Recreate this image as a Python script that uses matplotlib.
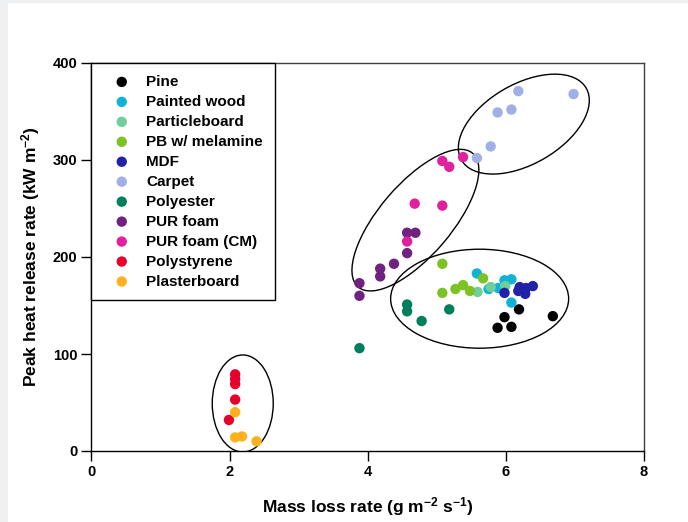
import numpy as np
import matplotlib
matplotlib.use("Agg")
import matplotlib.pyplot as plt
from matplotlib.patches import Ellipse, Rectangle
from matplotlib.transforms import ScaledTranslation

plt.rcParams["font.family"] = ["Liberation Sans", "DejaVu Sans"]
plt.rcParams["font.weight"] = "bold"
plt.rcParams["mathtext.fontset"] = "custom"
plt.rcParams["mathtext.rm"] = "Liberation Sans:bold"
plt.rcParams["mathtext.default"] = "rm"

# ── data (mass loss rate g/m2/s, peak HRR kW/m2) ─────────────────────────────
pine_x = [6.19, 5.98, 5.88, 6.08, 6.68]
pine_y = [146, 138, 127, 128, 139]

painted_x = [5.58, 5.75, 5.98, 6.08, 5.89, 6.08]
painted_y = [183, 167, 176, 177, 168, 153]

particle_x = [5.59, 5.78, 5.99]
particle_y = [164, 169, 170]

pbm_x = [5.08, 5.08, 5.27, 5.38, 5.48, 5.67]
pbm_y = [193, 163, 167, 171, 165, 178]

mdf_x = [5.98, 6.18, 6.20, 6.28, 6.29, 6.39]
mdf_y = [163, 165, 169, 162, 168, 170]

carpet_x = [6.18, 6.98, 5.88, 6.08, 5.78, 5.58]
carpet_y = [371, 368, 349, 352, 314, 302]

polyester_x = [4.57, 4.57, 4.78, 5.18, 3.88]
polyester_y = [151, 144, 134, 146, 106]

pur_x = [4.57, 4.69, 4.57, 4.38, 4.18, 4.18, 3.88, 3.88]
pur_y = [225, 225, 204, 193, 188, 180, 173, 160]

purcm_x = [5.38, 5.08, 5.18, 4.68, 5.08, 4.57]
purcm_y = [303, 299, 293, 255, 253, 216]

polystyrene_x = [2.08, 2.08, 2.08, 2.08, 1.99]
polystyrene_y = [79, 74, 69, 53, 32]

plaster_x = [2.08, 2.08, 2.18, 2.39]
plaster_y = [40, 14, 15, 10]

SERIES = [
    ("Pine",           pine_x,        pine_y,        "#000000"),
    ("Painted wood",   painted_x,     painted_y,     "#10b2d6"),
    ("Particleboard",  particle_x,    particle_y,    "#6fcf9c"),
    ("PB w/ melamine", pbm_x,         pbm_y,         "#7cc224"),
    ("MDF",            mdf_x,         mdf_y,         "#2222a8"),
    ("Carpet",         carpet_x,      carpet_y,      "#a0b0e6"),
    ("Polyester",      polyester_x,   polyester_y,   "#00805a"),
    ("PUR foam",       pur_x,         pur_y,         "#702280"),
    ("PUR foam (CM)",  purcm_x,       purcm_y,       "#e0209c"),
    ("Polystyrene",    polystyrene_x, polystyrene_y, "#e6002c"),
    ("Plasterboard",   plaster_x,     plaster_y,     "#ffb21e"),
]

# group ellipses: centre (data), width/height (inches), angle (deg)
ELLIPSES = [
    ((2.19, 49), 0.61, 0.97, 0),
    ((5.62, 157), 1.78, 0.99, 0),
    ((4.69, 238), 1.76, 0.72, 49.4),
    ((6.26, 337), 1.44, 0.80, 30),
]

# ── figure ───────────────────────────────────────────────────────────────────
W, H = 688, 522
fig = plt.figure(figsize=(W / 100, H / 100), dpi=100, facecolor="#eff0f2")
fig.patches.append(Rectangle((8 / W, 0), 1, 1 - 3 / H, transform=fig.transFigure,
                             facecolor="white", edgecolor="none", zorder=-10))

ax = fig.add_axes([91.5 / W, 1 - 451 / H, (644 - 91.5) / W, (451 - 63) / H])
ax.set_facecolor("white")

for label, xs, ys, color in SERIES:
    ax.scatter(xs, ys, s=56, color=color, edgecolors="none", label=label,
               zorder=3)

for (cx, cy), w, h, ang in ELLIPSES:
    tr = fig.dpi_scale_trans + ScaledTranslation(cx, cy, ax.transData)
    ax.add_patch(Ellipse((0, 0), w, h, angle=ang, transform=tr,
                         fill=False, edgecolor="black", lw=1.0, zorder=2))

ax.set_xlim(0, 8)
ax.set_ylim(0, 400)
ax.set_xticks([0, 2, 4, 6, 8])
ax.set_yticks([0, 100, 200, 300, 400])
ax.tick_params(direction="out", length=7, width=1, labelsize=10.5, pad=3,
               top=False, right=False)
for lab in ax.get_xticklabels() + ax.get_yticklabels():
    lab.set_fontweight("bold")
for sp in ax.spines.values():
    sp.set_linewidth(1)
ax.spines["top"].set_color("#404040")
ax.spines["right"].set_color("#404040")

ax.set_xlabel("Mass loss rate (g m$^{-2}$ s$^{-1}$)", fontsize=12.5,
              fontweight="bold", labelpad=12)
ax.set_ylabel("Peak heat release rate (kW m$^{-2}$)", fontsize=12.5,
              fontweight="bold", labelpad=8)

leg = ax.legend(loc="upper left", bbox_to_anchor=(0, 1), borderaxespad=0,
                frameon=True, fancybox=False, edgecolor="black",
                prop={"weight": "bold", "size": 11}, labelspacing=0.39,
                handletextpad=0.4, borderpad=0.78, scatterpoints=1,
                handlelength=2.4)
leg.get_frame().set_linewidth(1)
leg.get_frame().set_alpha(1)

fig.savefig("out.png", dpi=100, facecolor=fig.get_facecolor())
